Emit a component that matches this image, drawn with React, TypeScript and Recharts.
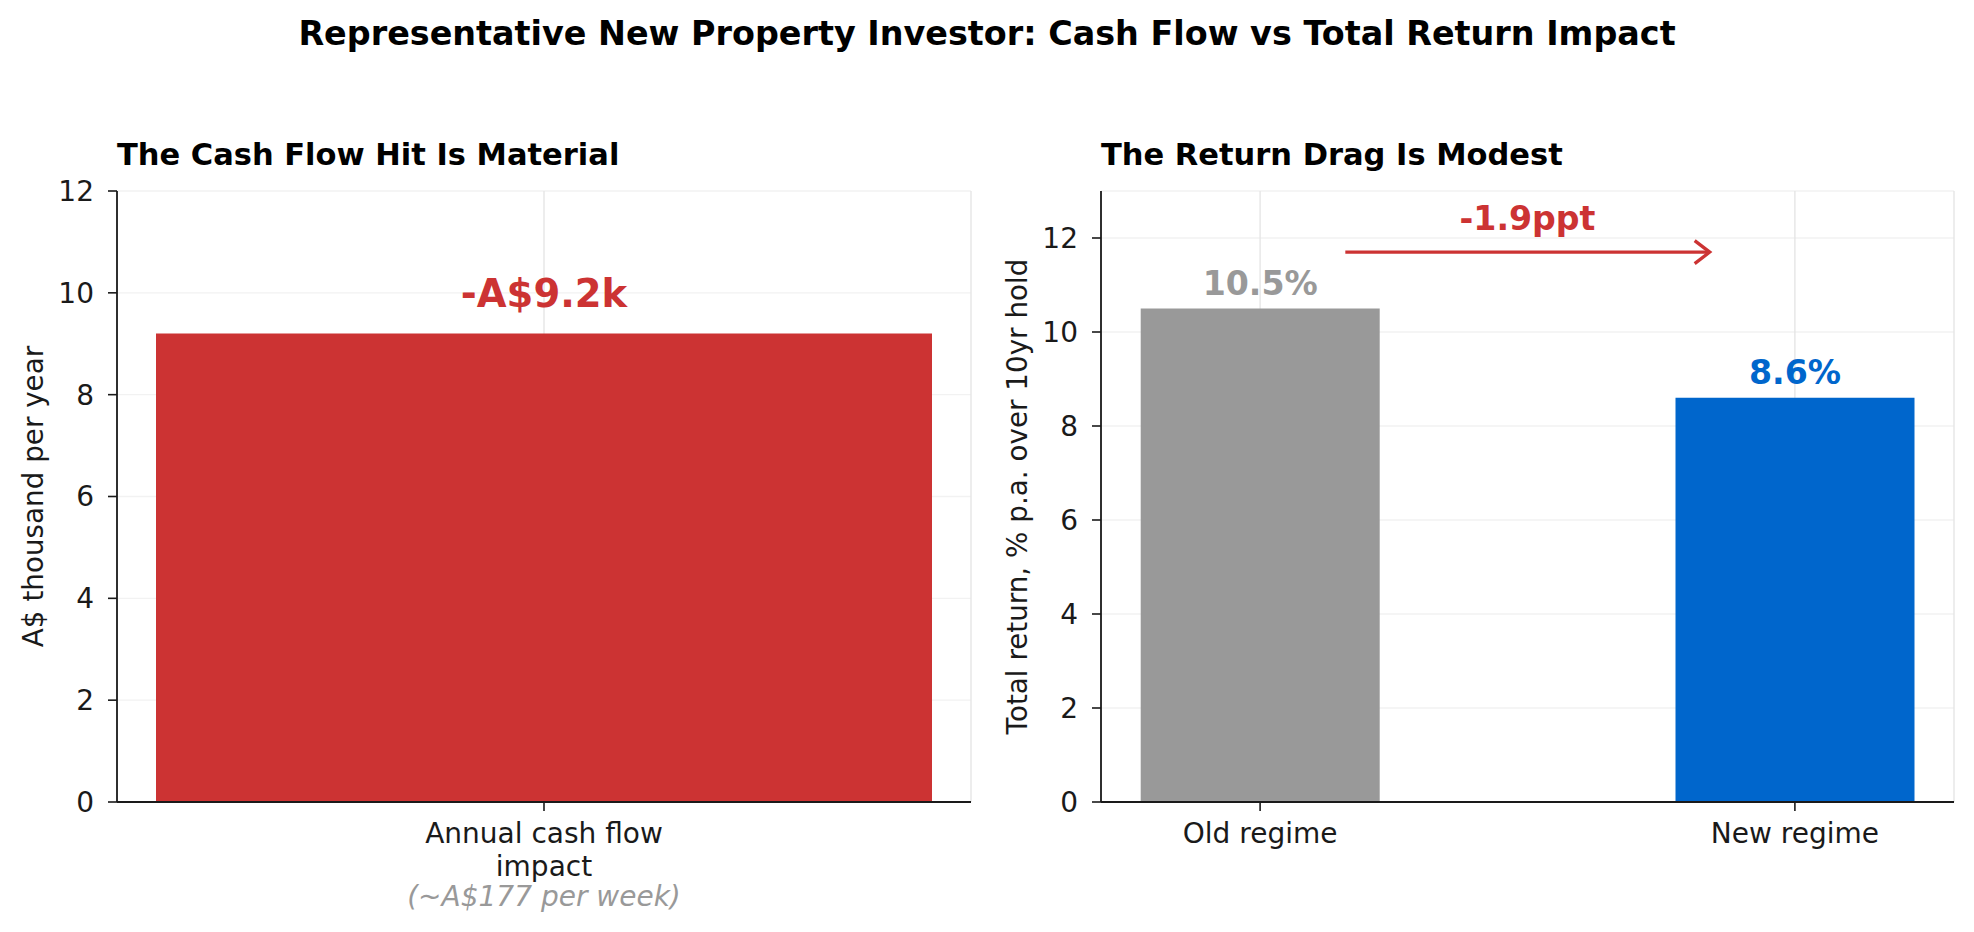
import {
  Bar,
  BarChart,
  CartesianGrid,
  Cell,
  LabelList,
  ReferenceLine,
  XAxis,
  YAxis,
} from "recharts";

const FONT = '"DejaVu Sans", Verdana, sans-serif';
const INK = "#1a1a1a";
const RED = "#cc3333";
const GREY = "#999999";
const BLUE = "#0066cc";
const GRID_H = "#f2f2f2";
const GRID_V = "#e4e4e4";

// Left panel: annual cash flow hit (A$ thousand per year)
const CASH_CATEGORIES = ["Annual cash flow\nimpact"];
const CASH_IMPACT_K = [9.2];
const CASH_NOTE = "(~A$177 per week)";
const CASH_TICKS = [0, 2, 4, 6, 8, 10, 12];

// Right panel: total return p.a. over a 10yr hold
const REGIMES = ["Old regime", "New regime"];
const RETURNS = [10.5, 8.6];
const REGIME_COLORS = [GREY, BLUE];
const RETURN_TICKS = [0, 2, 4, 6, 8, 10, 12];
const RETURN_MAX = 13;
// bar width 0.45 plus 5% axis margins, in category units
const X_PAD = 0.2975;

// annotation arrow between the two bars
const ARROW_FROM = 0.15;
const ARROW_TO = 0.85;
const ARROW_Y = 11.7;

const cashRows = CASH_CATEGORIES.map((label, i) => ({ label, value: CASH_IMPACT_K[i] }));
const returnRows = REGIMES.map((name, i) => ({ pos: i, name, value: RETURNS[i] }));
const dropPpt = RETURNS[1] - RETURNS[0];

const axisLine = { stroke: INK, strokeWidth: 1.8 };
const tickLine = { stroke: INK, strokeWidth: 1.6 };
const tickStyle = { fill: INK, fontSize: 28, fontFamily: FONT };

function yTitle(text: string) {
  return (props: any) => {
    const vb = props.viewBox || { x: 0, y: 191, height: 611 };
    const cx = vb.x + 43;
    const cy = vb.y + vb.height / 2;
    return (
      <text
        x={cx}
        y={cy}
        transform={`rotate(-90 ${cx} ${cy})`}
        textAnchor="middle"
        fontFamily={FONT}
        fontSize={27.8}
        fill={INK}
      >
        {text}
      </text>
    );
  };
}

function CashTick(props: any) {
  const { x, y, payload } = props;
  const lines = String(payload.value).split("\n");
  return (
    <g fontFamily={FONT} fontSize={28} textAnchor="middle">
      {lines.map((ln, i) => (
        <text key={ln} x={x} y={y + 20 + i * 33} fill={INK}>
          {ln}
        </text>
      ))}
      <text x={x} y={y + 20 + lines.length * 33 - 3} fill={GREY} fontStyle="italic">
        {CASH_NOTE}
      </text>
    </g>
  );
}

function ReturnLabel(props: any) {
  const { x, y, width, value, index } = props;
  return (
    <text
      x={x + width / 2}
      y={y - 14}
      textAnchor="middle"
      fontFamily={FONT}
      fontSize={33.2}
      fontWeight="bold"
      fill={REGIME_COLORS[index]}
    >
      {`${Number(value).toFixed(1)}%`}
    </text>
  );
}

function Arrow(props: any) {
  // shrink both ends a little, like an annotate arrow
  const x1 = props.x1 + 5;
  const x2 = props.x2 - 5;
  const y = props.y1;
  return (
    <g>
      <line x1={x1} y1={y} x2={x2 - 1} y2={y} stroke={RED} strokeWidth={3.3} />
      <polyline
        points={`${x2 - 15},${y - 11.5} ${x2},${y} ${x2 - 15},${y + 11.5}`}
        fill="none"
        stroke={RED}
        strokeWidth={3.3}
      />
    </g>
  );
}

export default function App() {
  return (
    <div
      style={{
        position: "absolute",
        left: 0,
        top: 0,
        width: 1974,
        height: 932,
        background: "#ffffff",
        fontFamily: FONT,
      }}
    >
      <div style={{ position: "absolute", left: 0, top: 0 }}>
        <BarChart
          width={984}
          height={932}
          data={cashRows}
          margin={{ top: 191, right: 13, bottom: 30, left: 0 }}
        >
          <CartesianGrid horizontal vertical={false} stroke={GRID_H} strokeWidth={1.3} />
          <CartesianGrid horizontal={false} vertical stroke={GRID_V} strokeWidth={1.3} />
          <XAxis
            dataKey="label"
            height={100}
            tickSize={9}
            tickMargin={12}
            axisLine={axisLine}
            tickLine={tickLine}
            tick={<CashTick />}
          />
          <YAxis
            width={117}
            domain={[0, 12]}
            ticks={CASH_TICKS}
            tickSize={9}
            tickMargin={14}
            axisLine={axisLine}
            tickLine={tickLine}
            tick={tickStyle}
            label={{ content: yTitle("A$ thousand per year") }}
          />
          <Bar dataKey="value" fill={RED} barSize={776} isAnimationActive={false}>
            <LabelList
              dataKey="value"
              position="top"
              offset={27}
              formatter={(v: any) => `-A$${Number(v).toFixed(1)}k`}
              fill={RED}
              fontSize={38.5}
              fontWeight="bold"
              fontFamily={FONT}
            />
          </Bar>
        </BarChart>
      </div>

      <div style={{ position: "absolute", left: 984, top: 0 }}>
        <BarChart
          width={990}
          height={932}
          data={returnRows}
          margin={{ top: 191, right: 20, bottom: 30, left: 0 }}
        >
          <CartesianGrid horizontal vertical={false} stroke={GRID_H} strokeWidth={1.3} />
          <CartesianGrid horizontal={false} vertical stroke={GRID_V} strokeWidth={1.3} />
          <XAxis
            type="number"
            dataKey="pos"
            domain={[-X_PAD, 1 + X_PAD]}
            ticks={[0, 1]}
            tickFormatter={(v: number) => REGIMES[v] ?? ""}
            height={100}
            tickSize={9}
            tickMargin={12}
            axisLine={axisLine}
            tickLine={tickLine}
            tick={tickStyle}
          />
          <YAxis
            width={117}
            domain={[0, RETURN_MAX]}
            ticks={RETURN_TICKS}
            tickSize={9}
            tickMargin={14}
            axisLine={axisLine}
            tickLine={tickLine}
            tick={tickStyle}
            label={{ content: yTitle("Total return, % p.a. over 10yr hold") }}
          />
          <Bar dataKey="value" barSize={239} isAnimationActive={false}>
            {returnRows.map((r, i) => (
              <Cell key={r.name} fill={REGIME_COLORS[i]} />
            ))}
            <LabelList dataKey="value" content={<ReturnLabel />} />
          </Bar>
          <ReferenceLine
            segment={[
              { x: ARROW_FROM, y: ARROW_Y },
              { x: ARROW_TO, y: ARROW_Y },
            ]}
            shape={<Arrow />}
            label={{
              value: `${dropPpt.toFixed(1)}ppt`,
              position: "top",
              offset: 22,
              fill: RED,
              fontSize: 33.2,
              fontWeight: "bold",
              fontFamily: FONT,
            }}
          />
        </BarChart>
      </div>

      <svg
        width={1974}
        height={932}
        style={{ position: "absolute", left: 0, top: 0, pointerEvents: "none" }}
        fontFamily={FONT}
        fontWeight="bold"
        fill="#000000"
      >
        <text x={987} y={45} textAnchor="middle" fontSize={33.4}>
          Representative New Property Investor: Cash Flow vs Total Return Impact
        </text>
        <text x={117} y={165} fontSize={30.5}>
          The Cash Flow Hit Is Material
        </text>
        <text x={1101} y={165} fontSize={30.5}>
          The Return Drag Is Modest
        </text>
      </svg>
    </div>
  );
}
